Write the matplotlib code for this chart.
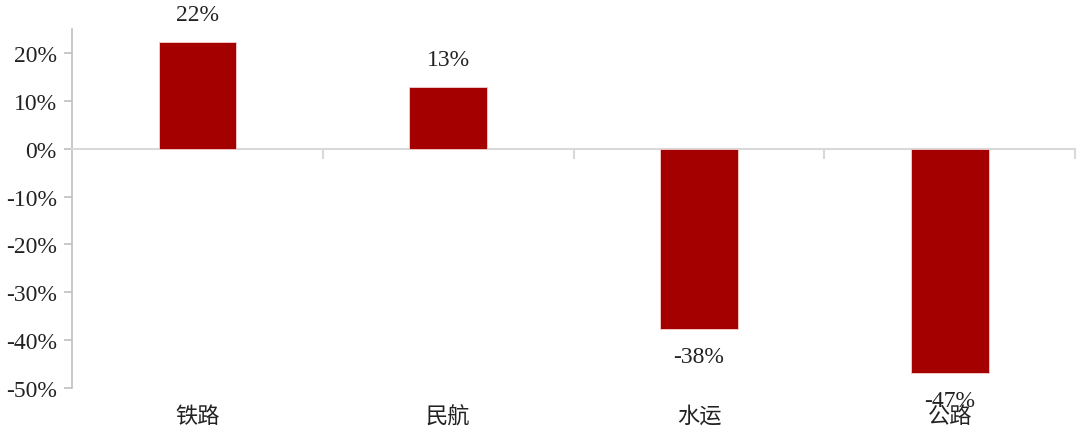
import matplotlib
matplotlib.use("Agg")
import matplotlib.pyplot as plt
import numpy as np

categories = ["铁路", "民航", "水运", "公路"]
values = [22.3, 12.9, -37.6, -46.9]
yticks = [20, 10, 0, -10, -20, -30, -40, -50]

fonts = ["Liberation Serif", "Noto Sans CJK SC", "DejaVu Sans"]
plt.rcParams["font.family"] = fonts
text_color = "#222222"
bar_color = "#a50000"

fig = plt.figure(figsize=(10.8, 4.31), dpi=100)
ax = fig.add_axes([0.0667, 0.0974, 0.9287, 0.833])

x = np.arange(len(categories))
bars = ax.bar(x, values, width=0.31, color=bar_color, edgecolor="#f2d0d0", linewidth=0.6, zorder=3)

# value labels, above positive bars / below negative ones
for bar, v in zip(bars, values):
    cx = bar.get_x() + bar.get_width() / 2
    off = 19.5 if v >= 0 else -20
    ax.annotate(f"{v:.0f}%", (cx, v), xytext=(0, off), textcoords="offset points",
                ha="center", va="center", fontsize=17, color=text_color)

ax.set_xlim(-0.5, len(categories) - 0.5)
ax.set_ylim(-50, 25)
ax.set_yticks(yticks)
ax.set_yticklabels([f"{t}%" for t in yticks])
ax.tick_params(axis="y", length=6, width=1.2, color="#bfbfbf", pad=5,
               labelsize=17, labelcolor=text_color)

# zero line acts as the category axis, ticks at category boundaries
ax.spines["bottom"].set_position(("data", 0))
ax.spines["bottom"].set_color("#d9d9d9")
ax.spines["bottom"].set_linewidth(1.5)
ax.set_xticks(x)
ax.set_xticklabels([])
ax.set_xticks(np.arange(len(categories)) + 0.5, minor=True)
ax.tick_params(axis="x", which="major", length=0)
ax.tick_params(axis="x", which="minor", length=7, width=1.5, color="#d9d9d9", direction="out")

ax.spines["left"].set_color("#bfbfbf")
ax.spines["left"].set_linewidth(1.2)
ax.spines["top"].set_visible(False)
ax.spines["right"].set_visible(False)

# category names at the bottom of the plot area
for xi, name in zip(x, categories):
    ax.text(xi, -0.08, name, transform=ax.get_xaxis_transform(), ha="center", va="center",
            fontsize=16, color=text_color)

fig.savefig("out.png", dpi=100)
